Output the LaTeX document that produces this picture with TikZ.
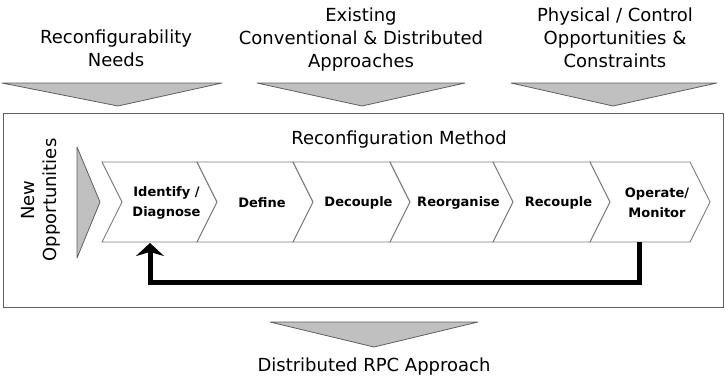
\documentclass[tikz,border=0pt]{standalone}
\usepackage{fontspec}
\setmainfont{DejaVu Sans}
\definecolor{funnelgray}{RGB}{192, 192, 192}
\definecolor{edgegray}{RGB}{95, 95, 95}
\definecolor{chevgray}{RGB}{125, 125, 125}
\usetikzlibrary{arrows.meta, positioning, calc}
\tikzset{
  inflow/.style={draw=edgegray, fill=funnelgray, line width=0.8pt, line join=round},
  toplabel/.style={font=\fontsize{18}{23}\selectfont, align=center, inner sep=0pt, anchor=north},
  chev/.style={draw=chevgray, fill=white, line width=0.9pt},
  steplabel/.style={font=\fontsize{13}{20}\selectfont\bfseries, align=center, inner sep=0pt},
}

\begin{document}
\begin{tikzpicture}[x=1pt, y=-1pt]
  \useasboundingbox (0,0) rectangle (725,389);

  % Inputs
  \node[toplabel] (needs) at (116,30) {Reconfigurability\\Needs};
  \node[toplabel] (existing) at (361,8) {Existing\\Conventional \& Distributed\\Approaches};
  \node[toplabel] (physical) at (615,8) {Physical / Control\\Opportunities \&\\Constraints};
  \draw[inflow] (2,83) -- (222,83) -- (118,106) -- cycle;
  \draw[inflow] (257,83) -- (465,83) -- (362,106) -- cycle;
  \draw[inflow] (511,83) -- (717,83) -- (613,106) -- cycle;

  % Method frame
  \node[draw=edgegray, line width=1pt, minimum width=720pt, minimum height=194pt, inner sep=0pt] (frame) at (363,210) {};
  \node[font=\fontsize{18}{22}\selectfont, inner sep=0pt] (method) at (399,140) {Reconfiguration Method};
  \node[font=\fontsize{18}{22}\selectfont, align=center, rotate=90, inner sep=0pt] (newopp) at (41,200) {New\\Opportunities};
  \draw[inflow] (77,147) -- (100,202) -- (77,258) -- cycle;

  % Steps
  \foreach \a/\b/\nm/\txt in {102/197/idf/{Identify /\\Diagnose}, 197/293/dfn/Define, 293/390/dcp/Decouple,
      390/493/reo/Reorganise, 493/590/rcp/Recouple, 590/690/opm/{Operate/\\Monitor}} {
    \draw[chev] (\a,162) -- (\b,162) -- (\b+20,202) -- (\b,242) -- (\a,242) -- (\a+20,202) -- cycle;
    \node[steplabel] (\nm) at ({(\a+\b)/2+17},203) {\txt};
  }

  % Feedback
  \coordinate (fbout) at (639,242);
  \coordinate (fbin) at (150,243);
  \draw[line width=5pt, -{Stealth[length=13pt, width=28pt, inset=4pt]}] (fbout) -- ++(0,40) -| (fbin);

  % Output
  \draw[inflow] (270,322) -- (478,322) -- (374,347) -- cycle;
  \node[font=\fontsize{18}{22}\selectfont, inner sep=0pt] (rpc) at (374,367) {Distributed RPC Approach};
\end{tikzpicture}
\end{document}
